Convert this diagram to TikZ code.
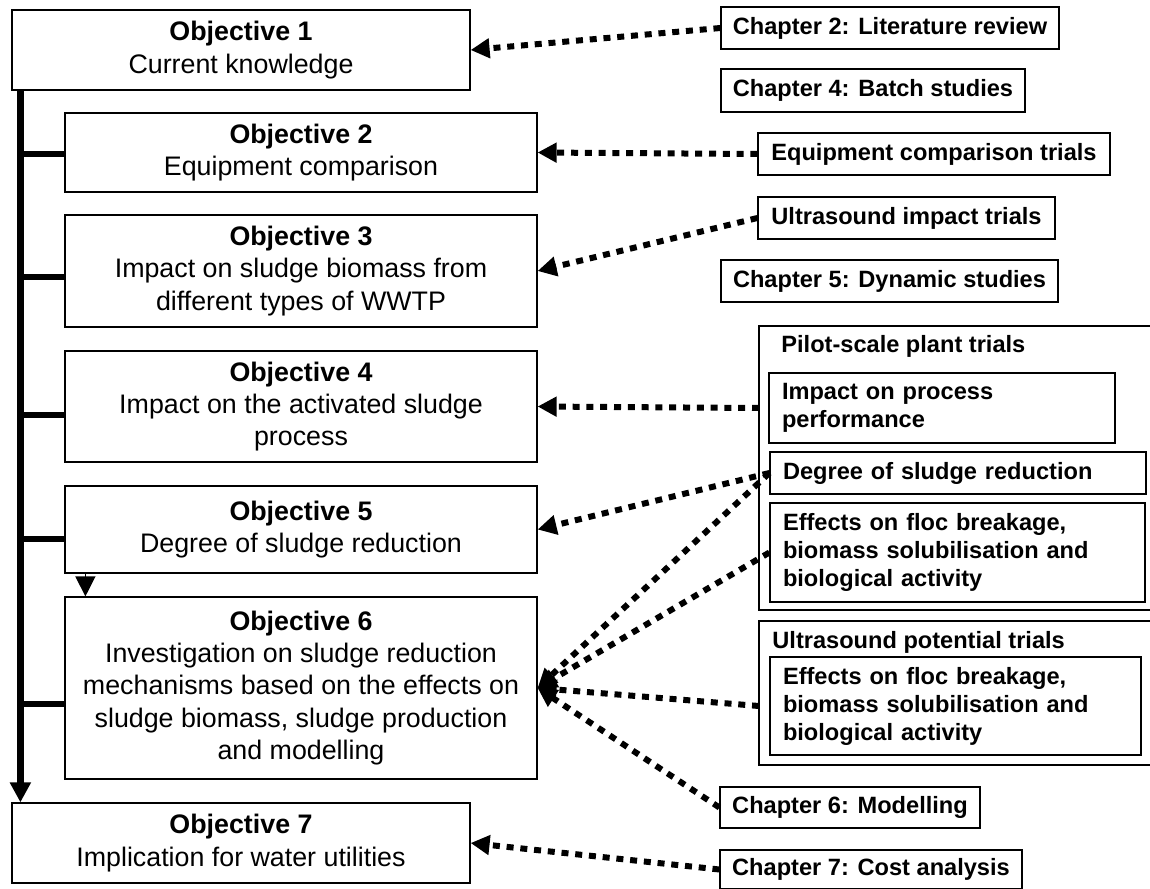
\documentclass[tikz,border=0pt]{standalone}
\usepackage{fontspec}
\setmainfont{Liberation Sans}
\usetikzlibrary{arrows.meta}
\newcommand\objfont{\fontsize{13.4}{16.2}\selectfont}
\newcommand\chapfont{\fontsize{11.8}{14}\selectfont\bfseries}

\begin{document}
\begin{tikzpicture}[x=0.5pt,y=-0.5pt,
		objbox/.style={draw,line width=0.6pt,align=center,font=\objfont,inner sep=0pt},
		chapbox/.style={draw,line width=0.6pt,align=center,font=\chapfont,inner sep=0pt},
		trialbox/.style={draw,line width=0.6pt,align=left,font=\chapfont,inner xsep=6.5pt,inner ysep=0pt},
		link/.style={line width=3pt,dash pattern=on 3.5pt off 3.4pt,-{Triangle[length=9.5pt,width=9.5pt]}},
	]
		\def\objective#1#2{\textbf{Objective #1}\\#2}%
		\useasboundingbox(0,0)rectangle(1150,888);

		% objectives
		\node[objbox,minimum width=229pt,minimum height=40pt](obj1)at(241,50){\objective{1}{Current knowledge}};
		\node[objbox,minimum width=236pt,minimum height=39.5pt](obj2)at(301,152.5){\objective{2}{Equipment comparison}};
		\node[objbox,minimum width=236pt,minimum height=56pt](obj3)at(301,271){\objective{3}{Impact on sludge biomass from\\different types of WWTP}};
		\node[objbox,minimum width=236pt,minimum height=55.5pt](obj4)at(301,406.5){\objective{4}{Impact on the activated sludge\\process}};
		\node[objbox,minimum width=236pt,minimum height=43.5pt](obj5)at(301,529.5){\objective{5}{Degree of sludge reduction}};
		\node[objbox,minimum width=236pt,minimum height=91pt](obj6)at(301,688){\objective{6}{Investigation on sludge reduction\\mechanisms based on the effects on\\sludge biomass, sludge production\\and modelling}};
		\node[objbox,minimum width=229pt,minimum height=40pt](obj7)at(241,843){\objective{7}{Implication for water utilities}};

		% chapters and trials
		\node[chapbox,minimum width=169pt,minimum height=21pt](ch2)at(890,28){Chapter 2: Literature review};
		\node[chapbox,minimum width=152pt,minimum height=21.5pt](ch4)at(873,90.5){Chapter 4: Batch studies};
		\node[chapbox,minimum width=176pt,minimum height=21pt](eqtrials)at(934,154){Equipment comparison trials};
		\node[chapbox,minimum width=148.5pt,minimum height=21pt](ustrials)at(906.5,218){Ultrasound impact trials};
		\node[chapbox,minimum width=168.5pt,minimum height=21pt](ch5)at(889.5,281){Chapter 5: Dynamic studies};

		\coordinate(pilot)at(759,326);
		\coordinate(potential)at(759,621);
		\draw[line width=0.6pt](1150,326)--(pilot)--(759,610)--(1150,610);
		\draw[line width=0.6pt](1150,621)--(potential)--(759,765)--(1150,765);
		\node[font=\chapfont,anchor=west,inner sep=0pt](pilottitle)at(781,346){Pilot-scale plant trials};
		\node[font=\chapfont,anchor=west,inner sep=0pt](potentialtitle)at(772,642){Ultrasound potential trials};

		\node[trialbox,text width=160pt,minimum height=35pt](impact)at(942,408){Impact on process\\performance};
		\node[trialbox,text width=175pt,minimum height=21pt](degree)at(958,473){Degree of sludge reduction};
		\node[trialbox,text width=174.5pt,minimum height=49.5pt](effects1)at(957.5,552.5){Effects on floc breakage,\\biomass solubilisation and\\biological activity};
		\node[trialbox,text width=172.5pt,minimum height=49pt](effects2)at(955.5,706){Effects on floc breakage,\\biomass solubilisation and\\biological activity};

		\node[chapbox,minimum width=130pt,minimum height=20.5pt](ch6)at(850,807.5){Chapter 6: Modelling};
		\node[chapbox,minimum width=151pt,minimum height=19.5pt](ch7)at(871,869.5){Chapter 7: Cost analysis};

		% trunk and branches
		\coordinate(trunk)at([xshift=4.5pt]obj1.south west);
		\draw[line width=3.5pt,-{Triangle[length=10pt,width=10pt]}](trunk)--(trunk|-obj7.north);
		\foreach \n/\d in {2/-0.75,3/-3,4/-4.25,5/-4.75,6/-8}
			\draw[line width=3pt]([yshift=\d pt]obj\n.west)--([yshift=\d pt]obj\n.west-|trunk);
		\draw[line width=0.6pt,-{Triangle[length=10pt,width=10pt]}]([xshift=10.5pt]obj5.south west)--([xshift=10.5pt]obj6.north west);

		% dotted links
		\begin{scope}[link]
			\draw(ch2.west)--(obj1.east);
			\draw(eqtrials.west)--(obj2.east);
			\draw(ustrials.west)--(obj3.east);
			\draw(impact.west-|pilot)--(obj4.east);
			\draw(degree.west)--(obj5.east);
			\draw(degree.west)--(obj6.east);
			\draw(effects1.west)--(obj6.east);
			\draw(effects2.west-|potential)--(obj6.east);
			\draw(ch6.west)--(obj6.east);
			\draw(ch7.west)--(obj7.east);
		\end{scope}
	\end{tikzpicture}
\end{document}
